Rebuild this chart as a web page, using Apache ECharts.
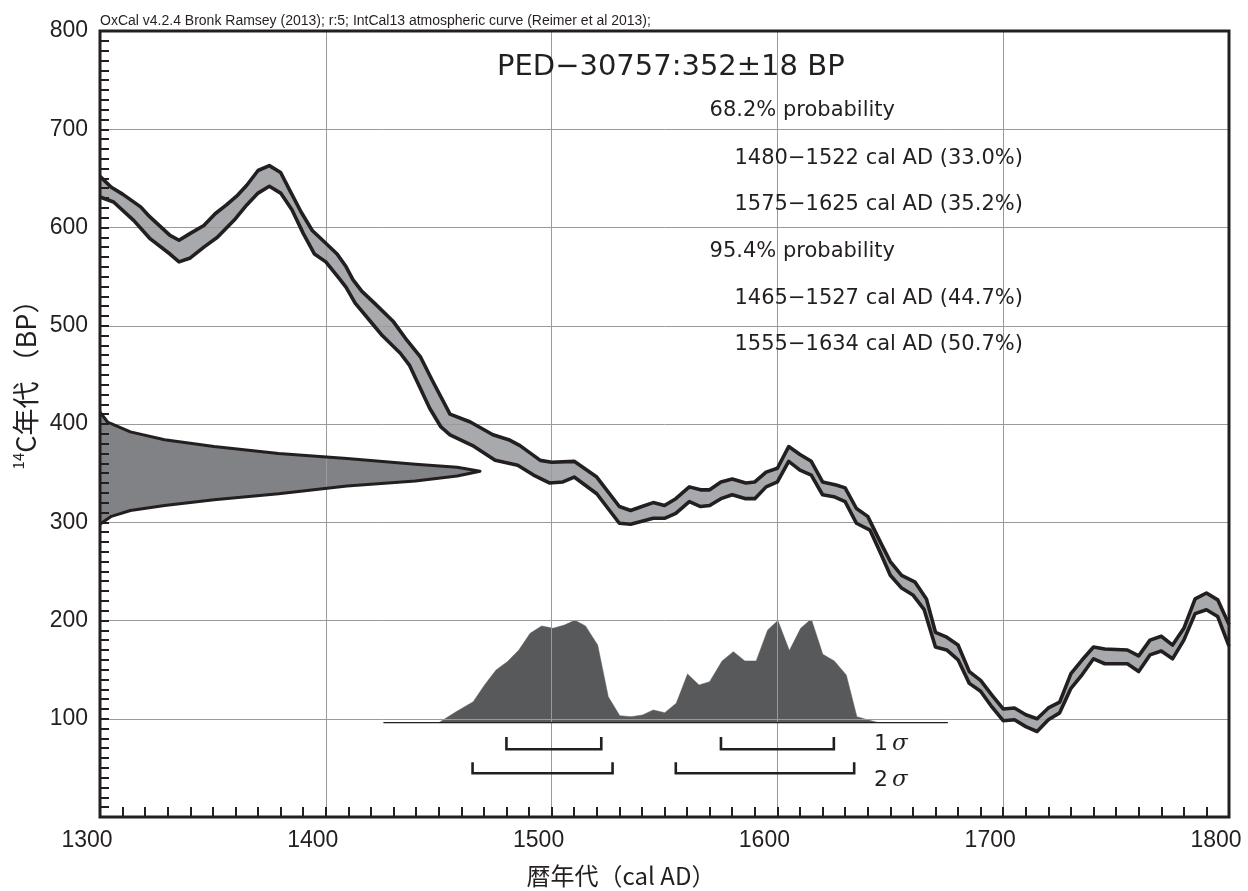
<!DOCTYPE html>
<html><head><meta charset="utf-8">
<script src="https://cdn.jsdelivr.net/npm/echarts@6/dist/echarts.min.js"></script>
<style>html,body{margin:0;padding:0;background:#fff}#c{width:1248px;height:891px}</style>
</head><body><div id="c"></div>
<script>
// ---- data ----
const xTickValues = [1300, 1400, 1500, 1600, 1700, 1800];
const yTickValues = [100, 200, 300, 400, 500, 600, 700, 800];

// IntCal13 band, upper edge [cal AD, 14C BP]
const curveUpper = [
  [1300,652],[1305,641],[1310,634],[1318,621],[1322,611],[1331,592],[1335,587],[1340,594],
  [1346,602],[1351,614],[1356,623],[1361,633],[1365,643],[1370,658],[1375,663],[1380,656],
  [1384,638],[1389,616],[1394,597],[1400,584],[1405,573],[1409,560],[1412,547],[1416,535],
  [1422,522],[1430,504],[1436,485],[1442,468],[1447,445],[1455,410],[1464,402],[1474,389],
  [1481,384],[1486,378],[1495,363],[1500,361],[1510,362],[1520,346],[1530,316],[1535,312],
  [1540,316],[1545,320],[1550,317],[1555,324],[1561,336],[1566,333],[1570,333],[1575,341],
  [1580,344],[1586,340],[1590,341],[1595,351],[1600,355],[1605,377],[1610,369],[1615,362],
  [1620,341],[1626,338],[1630,335],[1635,314],[1640,306],[1646,278],[1650,260],[1655,246],
  [1661,239],[1666,222],[1670,188],[1675,183],[1680,175],[1685,148],[1690,139],[1695,124],
  [1700,110],[1705,111],[1710,104],[1715,100],[1720,111],[1725,117],[1730,146],[1735,160],
  [1740,173],[1745,171],[1755,170],[1760,164],[1765,180],[1770,184],[1775,175],[1780,192],
  [1785,222],[1790,228],[1795,221],[1800,196]
];
// IntCal13 band, lower edge
const curveLower = [
  [1300,631],[1306,626],[1315,607],[1322,589],[1331,573],[1335,565],[1340,569],[1346,580],
  [1352,590],[1360,609],[1365,623],[1370,635],[1375,642],[1380,635],[1385,618],[1390,594],
  [1395,573],[1400,565],[1406,548],[1409,539],[1413,523],[1421,501],[1425,490],[1433,472],
  [1437,460],[1446,416],[1451,397],[1455,389],[1465,378],[1475,363],[1485,358],[1492,348],
  [1499,340],[1505,341],[1510,346],[1520,329],[1525,314],[1530,299],[1535,298],[1545,304],
  [1550,304],[1555,309],[1561,321],[1566,316],[1570,317],[1575,324],[1580,328],[1586,324],
  [1590,324],[1595,336],[1600,341],[1605,362],[1610,353],[1615,348],[1620,328],[1625,326],
  [1630,321],[1635,299],[1641,292],[1646,267],[1650,246],[1655,233],[1660,226],[1665,211],
  [1670,173],[1675,170],[1680,160],[1685,136],[1690,128],[1695,112],[1700,98],[1705,99],
  [1710,92],[1715,87],[1720,99],[1725,106],[1730,131],[1735,145],[1740,161],[1745,156],
  [1755,156],[1760,148],[1765,165],[1770,169],[1775,161],[1780,180],[1785,207],[1790,211],
  [1795,204],[1800,174]
];

// radiocarbon date distribution (relative density vs 14C BP)
const dateBP      = [412, 402, 392, 384, 377, 370, 365, 359, 356, 352, 347, 342, 337, 329, 323, 317, 312, 306, 298];
const dateDensity = [0, 0.02, 0.08, 0.17, 0.30, 0.47, 0.65, 0.83, 0.94, 1.0, 0.94, 0.83, 0.65, 0.47, 0.30, 0.17, 0.08, 0.03, 0];

// calibrated distribution (relative probability vs cal AD)
const calYears = [1450,1457.7,1465.3,1470.3,1475.4,1480.4,1485.5,1490.5,1495.6,1500.7,1505.7,1510.3,1515,1520.4,1525.1,
  1530.2,1535.2,1540.3,1545,1550.1,1555.2,1560.2,1565.3,1570,1575.5,1580.5,1585.6,1590.6,1595.7,1600.2,1605.3,
  1610.3,1615,1620.1,1625.2,1630.5,1635.2,1640.3,1644.8];
const calProb = [0,0.107,0.205,0.368,0.515,0.596,0.71,0.873,0.945,0.922,0.954,1.0,0.945,0.759,0.254,
  0.068,0.059,0.075,0.124,0.098,0.189,0.476,0.368,0.401,0.603,0.694,0.603,0.603,0.906,0.997,0.704,
  0.922,1.013,0.668,0.603,0.466,0.059,0.026,0];
const calBaseline = [1425.5, 1675.5];

const sampleName = 'PED−30757', sampleBP = 352, sampleErr = 18;
const sigma1 = [[1480, 1522, 33.0], [1575, 1625, 35.2]];
const sigma2 = [[1465, 1527, 44.7], [1555, 1634, 50.7]];
const headerText = 'OxCal v4.2.4 Bronk Ramsey (2013); r:5; IntCal13 atmospheric curve (Reimer et al 2013);';

// ---- chart ----
const INK = '#231f20';
const chart = echarts.init(document.getElementById('c'));
const gridL = 100, gridR = 19, gridT = 31, gridB = 74;
const baseY = 722.7, peakY = 620.3;

function rangeText(r) { return r[0] + '−' + r[1] + ' cal AD (' + r[2].toFixed(1) + '%)'; }

const txtFont = 'DejaVu Sans';
const graphics = [
  {type:'text', x:100, y:21, z:20, style:{text:headerText, font:'14px "Liberation Sans Narrow", "Liberation Sans", sans-serif', fill:INK, verticalAlign:'middle'}},
  {type:'text', x:497, y:67, z:20, style:{text:sampleName + ':' + sampleBP + '±' + sampleErr + ' BP', fontFamily:txtFont, fontSize:29, fill:INK, verticalAlign:'middle'}},
  {type:'text', x:709.6, y:111, z:20, style:{text:'68.2% probability', fontFamily:txtFont, fontSize:21, fill:INK, verticalAlign:'middle'}},
  {type:'text', x:734.5, y:158.3, z:20, style:{text:rangeText(sigma1[0]), fontFamily:txtFont, fontSize:21, fill:INK, verticalAlign:'middle'}},
  {type:'text', x:734.5, y:205, z:20, style:{text:rangeText(sigma1[1]), fontFamily:txtFont, fontSize:21, fill:INK, verticalAlign:'middle'}},
  {type:'text', x:709.6, y:251.7, z:20, style:{text:'95.4% probability', fontFamily:txtFont, fontSize:21, fill:INK, verticalAlign:'middle'}},
  {type:'text', x:734.5, y:298.3, z:20, style:{text:rangeText(sigma2[0]), fontFamily:txtFont, fontSize:21, fill:INK, verticalAlign:'middle'}},
  {type:'text', x:734.5, y:345, z:20, style:{text:rangeText(sigma2[1]), fontFamily:txtFont, fontSize:21, fill:INK, verticalAlign:'middle'}},
  {type:'text', x:874, y:744, z:20, style:{text:'{n|1}{s|σ}', fill:INK, verticalAlign:'middle',
     rich:{n:{fontFamily:txtFont, fontSize:22, fill:INK, padding:[0,4,0,0]}, s:{fontFamily:'DejaVu Serif', fontStyle:'italic', fontSize:23, fill:INK}}}},
  {type:'text', x:874, y:780, z:20, style:{text:'{n|2}{s|σ}', fill:INK, verticalAlign:'middle',
     rich:{n:{fontFamily:txtFont, fontSize:22, fill:INK, padding:[0,4,0,0]}, s:{fontFamily:'DejaVu Serif', fontStyle:'italic', fontSize:23, fill:INK}}}},
  {type:'text', x:621, y:876, z:20, style:{text:'暦年代（cal AD）', fontFamily:'Noto Sans CJK JP', fontSize:24, fill:INK, align:'center', verticalAlign:'middle'}},
  {type:'text', x:26, y:378, z:20, rotation:Math.PI/2, style:{text:'{sup|14}{m|C年代 （BP）}', align:'center', verticalAlign:'middle',
     rich:{sup:{fontFamily:'Noto Sans CJK JP', fontSize:15, fill:INK, verticalAlign:'top', lineHeight:30}, m:{fontFamily:'Noto Sans CJK JP', fontSize:27, fill:INK, lineHeight:30}}}}
];

function polygonSeries(xi, yi, pts, style, z) {
  return {
    type:'custom', xAxisIndex:xi, yAxisIndex:yi, data:[pts[0]], z:z, silent:true, clip:false,
    renderItem:(p, api) => ({type:'polygon', shape:{points: pts.map(q => api.coord(q))}, style: style})
  };
}
function polylinesSeries(xi, yi, lines, style, z) {
  return {
    type:'custom', xAxisIndex:xi, yAxisIndex:yi, data:[lines[0][0]], z:z, silent:true, clip:false,
    renderItem:(p, api) => ({type:'group', children: lines.map(l => ({type:'polyline', shape:{points: l.map(q => api.coord(q))}, style: style}))})
  };
}

const bandPoly = curveUpper.concat(curveLower.slice().reverse());
const datePts = dateBP.map((b, i) => [dateDensity[i], b]);
const calPts = calYears.map((y, i) => [y, calProb[i]]);

const bracketSeries = {
  type:'custom', xAxisIndex:2, yAxisIndex:2, z:6, silent:true, clip:false,
  data: sigma1.map(r => [r[0], r[1], 1]).concat(sigma2.map(r => [r[0], r[1], 2])),
  renderItem: (p, api) => {
    const a = api.coord([api.value(0), 0]);
    const b = api.coord([api.value(1), 0]);
    const lvl = api.value(2);
    const yLine = a[1] + (lvl === 1 ? 26.5 : 50.6);
    const h = lvl === 1 ? 12.3 : 11;
    return {type:'polyline', shape:{points:[[a[0], yLine - h], [a[0], yLine], [b[0], yLine], [b[0], yLine - h]]},
      style:{stroke:INK, lineWidth:2.6, fill:null}};
  }
};

const axisTextStyle = {fontFamily:'Liberation Sans', fontSize:23, color:INK};

chart.setOption({
  animation:false,
  grid:[
    {left:gridL, right:gridR, top:gridT, bottom:gridB, show:true, borderColor:INK, borderWidth:3, backgroundColor:'transparent', z:5, outerBoundsMode:'none', containLabel:false},
    {left:gridL, width:380, top:gridT, bottom:gridB, outerBoundsMode:'none', containLabel:false},
    {left:gridL, right:gridR, top:peakY, bottom:891 - baseY, outerBoundsMode:'none', containLabel:false}
  ],
  xAxis:[
    {type:'value', gridIndex:0, min:xTickValues[0], max:xTickValues[xTickValues.length-1], interval:100, z:3,
     axisLine:{show:false},
     axisTick:{show:true, inside:true, length:10, lineStyle:{color:INK, width:2}},
     minorTick:{show:true, splitNumber:10, length:10, lineStyle:{color:INK, width:2}},
     splitLine:{show:true, lineStyle:{color:'#9a9a9a', width:1}},
     axisLabel:Object.assign({margin:12, padding:[0,26,0,0], formatter: v => String(v)}, axisTextStyle)},
    {type:'value', gridIndex:1, min:0, max:1, show:false},
    {type:'value', gridIndex:2, min:xTickValues[0], max:xTickValues[xTickValues.length-1], show:false}
  ],
  yAxis:[
    {type:'value', gridIndex:0, min:0, max:yTickValues[yTickValues.length-1], interval:100, z:3,
     axisLine:{show:false},
     axisTick:{show:true, inside:true, length:9, lineStyle:{color:INK, width:2}},
     minorTick:{show:true, splitNumber:10, length:9, lineStyle:{color:INK, width:2}},
     splitLine:{show:true, lineStyle:{color:'#9a9a9a', width:1}},
     axisLabel:Object.assign({margin:12, formatter: v => (yTickValues.indexOf(v) >= 0 ? String(v) : '')}, axisTextStyle)},
    {type:'value', gridIndex:1, min:0, max:yTickValues[yTickValues.length-1], show:false},
    {type:'value', gridIndex:2, min:0, max:1, show:false}
  ],
  graphic: graphics,
  series:[
    polygonSeries(0, 0, bandPoly, {fill:'#a7a9ac'}, 2),
    polylinesSeries(0, 0, [curveUpper, curveLower], {stroke:INK, lineWidth:3.6, fill:null, lineJoin:'round'}, 4),
    polygonSeries(1, 1, datePts, {fill:'#808285'}, 2),
    polylinesSeries(1, 1, [datePts], {stroke:INK, lineWidth:3, fill:null, lineJoin:'round'}, 4),
    {type:'line', xAxisIndex:2, yAxisIndex:2, data:calPts, symbol:'none', z:2, silent:true,
     lineStyle:{width:0.5, color:'#58595b'}, areaStyle:{color:'#58595b', opacity:1}},
    {type:'line', xAxisIndex:2, yAxisIndex:2, data:calBaseline.map(y => [y, 0]), symbol:'none', z:4, silent:true,
     lineStyle:{width:1.6, color:INK}},
    bracketSeries
  ]
});
</script>
</body></html>
